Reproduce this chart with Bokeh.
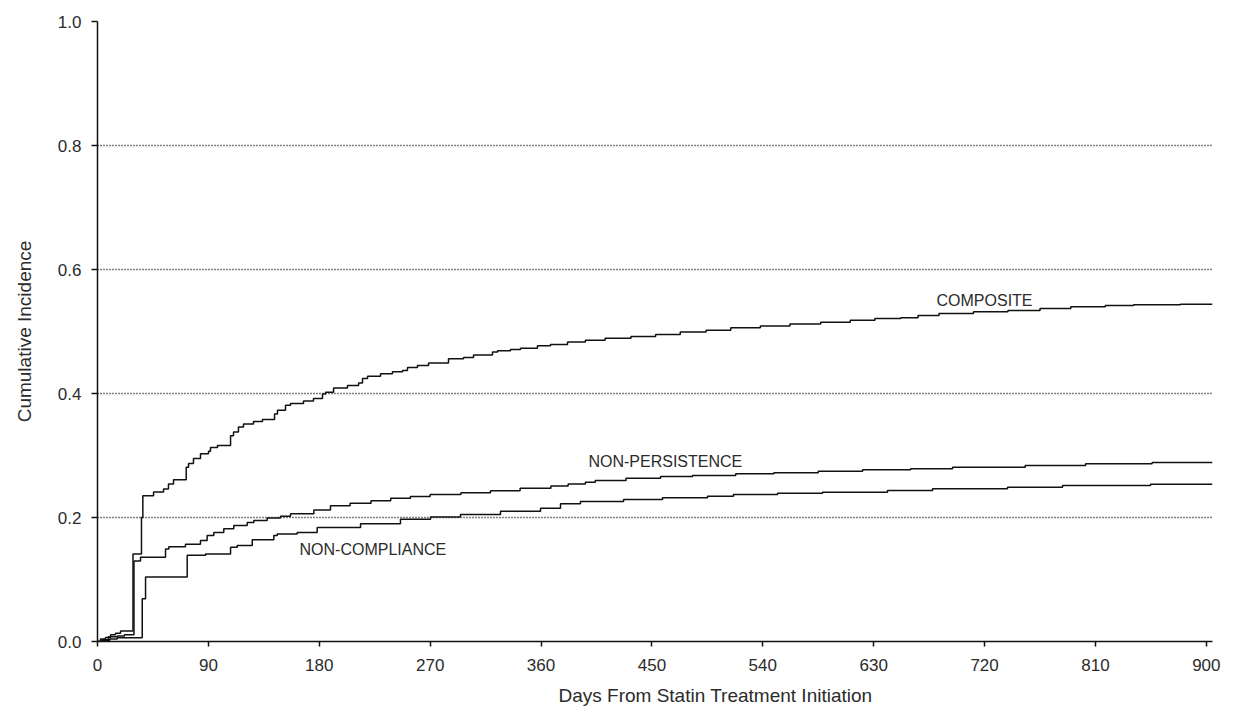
from bokeh.plotting import figure
from bokeh.models import FixedTicker, NumeralTickFormatter, ColumnDataSource, Title
from bokeh.core.properties import value
from bokeh.embed import file_html
from bokeh.resources import INLINE

# ---- data (days, cumulative incidence) ----
composite_days = [0, 2.4, 6.5, 10.6, 14.6, 18.7, 28.8, 35.7, 36.8, 45.5,
                  53.6, 57.6, 61.7, 72.0, 73.9, 77.9, 83.6, 90.1, 91.7, 97.4,
                  108.0, 110.4, 114.4, 118.5, 126.6, 133.9, 143.7, 146.1, 152.6, 156.7,
                  167.2, 175.3, 182.6, 185.1, 191.6, 202.9, 211.9, 215.1, 219.2, 229.7,
                  239.4, 247.6, 251.6, 259.7, 268.7, 284.9, 297.1, 305.2, 320.6, 324.7,
                  335.2, 343.3, 357.1, 367.7, 381.5, 396, 412, 433, 453, 473,
                  494, 514, 538, 562, 587, 611, 631, 652, 666, 683,
                  711, 739, 765, 790, 818, 841, 879, 905]
composite_vals = [0, 0.004, 0.0065, 0.011, 0.0135, 0.017, 0.141, 0.200, 0.235, 0.241,
                  0.246, 0.254, 0.261, 0.281, 0.287, 0.295, 0.303, 0.307, 0.313, 0.316,
                  0.332, 0.338, 0.346, 0.351, 0.355, 0.358, 0.367, 0.373, 0.381, 0.384,
                  0.388, 0.392, 0.399, 0.402, 0.409, 0.413, 0.417, 0.424, 0.428, 0.432,
                  0.435, 0.437, 0.442, 0.445, 0.449, 0.456, 0.458, 0.462, 0.467, 0.469,
                  0.471, 0.473, 0.477, 0.479, 0.483, 0.486, 0.489, 0.492, 0.495, 0.499,
                  0.502, 0.506, 0.509, 0.512, 0.515, 0.518, 0.521, 0.522, 0.526, 0.529,
                  0.532, 0.534, 0.537, 0.540, 0.542, 0.543, 0.544, 0.544]

persist_days = [0, 3.8, 8.9, 16, 21.9, 29.6, 34.9, 55.2, 57.9, 71.4,
                83.6, 89, 94.4, 102.5, 110.6, 121.5, 126.9, 137.7, 148.5, 156.7,
                175.6, 189.1, 205, 222, 238, 254, 270, 295, 319, 343,
                368, 382, 396, 404, 429, 457, 483, 518, 549, 585,
                621, 660, 694, 753, 802, 856, 905]
persist_vals = [0, 0.003, 0.0076, 0.009, 0.011, 0.130, 0.136, 0.149, 0.153, 0.157,
                0.163, 0.171, 0.176, 0.182, 0.187, 0.192, 0.195, 0.199, 0.202, 0.206,
                0.212, 0.219, 0.223, 0.227, 0.231, 0.234, 0.237, 0.240, 0.243, 0.247,
                0.251, 0.254, 0.257, 0.2596, 0.2633, 0.266, 0.2677, 0.2704, 0.272, 0.2746,
                0.2769, 0.2785, 0.2811, 0.2838, 0.2866, 0.2887, 0.2887]

comply_days = [0, 4, 10, 16, 36.3, 39, 72.8, 87.7, 108, 113.4,
               125.6, 143.1, 145.9, 162.1, 178.3, 213.5, 245.9, 270.3, 294.6, 327.1,
               359.6, 375.8, 392, 427, 458.6, 495.1, 516.2, 552, 588.5, 641.2,
               677.8, 738.6, 783.3, 854.7, 905]
comply_vals = [0, 0.002, 0.004, 0.006, 0.069, 0.104, 0.139, 0.141, 0.152, 0.155,
               0.164, 0.171, 0.1735, 0.176, 0.184, 0.190, 0.197, 0.201, 0.205, 0.210,
               0.215, 0.222, 0.2257, 0.229, 0.2317, 0.2343, 0.237, 0.2391, 0.2407, 0.2435,
               0.2462, 0.2488, 0.2515, 0.2535, 0.2535]

x_ticks = [0, 90, 180, 270, 360, 450, 540, 630, 720, 810, 900]
y_ticks = [0.0, 0.2, 0.4, 0.6, 0.8, 1.0]

x_title = "Days From Statin  Treatment Initiation"
y_title = "Cumulative Incidence"

label_texts = ["COMPOSITE", "NON-PERSISTENCE", "NON-COMPLIANCE"]
label_x = [681, 398.5, 164]
label_y = [0.550, 0.290, 0.148]

FONT = "Liberation Sans"
TXT = "#2b2b2b"

p = figure(width=1232, height=718, x_range=(0, 905), y_range=(0, 1.0),
           output_backend="svg", toolbar_location=None,
           min_border_left=97, min_border_right=20, min_border_top=21, min_border_bottom=77)
p.outline_line_color = None
p.background_fill_color = "white"
p.border_fill_color = "white"

p.xgrid.grid_line_color = None
p.ygrid.ticker = FixedTicker(ticks=y_ticks)
p.ygrid.grid_line_color = "#000000"
p.ygrid.grid_line_dash = "1 2"
p.ygrid.grid_line_width = 1.3

for ax in (p.xaxis, p.yaxis):
    ax.axis_line_color = "#111111"
    ax.axis_line_width = 1.5
    ax.major_tick_line_color = "#111111"
    ax.major_tick_line_width = 1.5
    ax.major_tick_in = 0
    ax.minor_tick_line_color = None
    ax.major_label_text_font = FONT
    ax.major_label_text_font_size = "17px"
    ax.major_label_text_color = TXT
    ax.axis_label_text_font = FONT
    ax.axis_label_text_font_size = "19px"
    ax.axis_label_text_font_style = "normal"
    ax.axis_label_text_color = TXT

p.xaxis.ticker = FixedTicker(ticks=x_ticks)
p.xaxis.major_tick_out = 5
p.xaxis.major_label_standoff = 12

p.yaxis.ticker = FixedTicker(ticks=y_ticks)
p.yaxis.formatter = NumeralTickFormatter(format="0.0")
p.yaxis.major_tick_out = 6
p.yaxis.major_label_standoff = 10
p.yaxis.axis_label = y_title
p.yaxis.axis_label_standoff = 20

# x-axis title, sitting right of centre as in the original
p.add_layout(Title(text=x_title, align="left", offset=461, standoff=18,
                   vertical_align="bottom",
                   text_font=FONT, text_font_size="19px", text_font_style="normal",
                   text_color=TXT), "below")

line_kw = dict(line_color="#111111", line_width=1.5, mode="after")
p.step(composite_days, composite_vals, **line_kw)
p.step(persist_days, persist_vals, **line_kw)
p.step(comply_days, comply_vals, **line_kw)

src = ColumnDataSource(dict(x=label_x, y=label_y, t=label_texts))
p.text(x="x", y="y", text="t", source=src, text_font=value(FONT),
       text_font_size="16px", text_color=TXT, text_baseline="middle", text_align="left")

open("out.html", "w").write(file_html(p, INLINE))
